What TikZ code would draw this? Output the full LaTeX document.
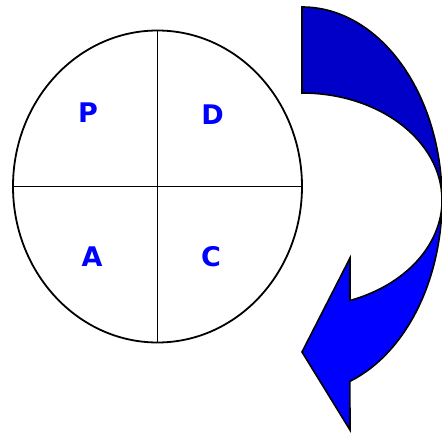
\documentclass[tikz,border=0pt]{standalone}
\usepackage{fontspec}
\setmainfont{DejaVu Sans}
\usetikzlibrary{shapes.geometric}
\definecolor{lblblue}{RGB}{0,0,255}
\definecolor{arrowdark}{RGB}{0,0,200}
\definecolor{arrowlight}{RGB}{0,0,255}
\tikzset{
  ring/.style={ellipse, draw=black, line width=1.8pt, minimum width=289pt, minimum height=312pt, inner sep=0pt},
  divider/.style={draw=black, line width=1.8pt},
  letter/.style={text=lblblue, font=\bfseries\fontsize{27}{30}\selectfont, inner sep=0pt},
  arrowpart/.style={draw=black, line width=1.6pt, line join=miter}
}
\begin{document}
\begin{tikzpicture}[x=1pt,y=1pt]
\useasboundingbox (0,0) rectangle (442,432);
% PDCA circle
\node[ring] (pdca) at (157.5,245.5) {};
\draw[divider] (pdca.north) -- (pdca.south);
\draw[divider] (pdca.west) -- (pdca.east);
\node[letter] (P) at (88,319.5) {P};
\node[letter] (D) at (212.5,317) {D};
\node[letter] (A) at (92,175) {A};
\node[letter] (C) at (211,175) {C};
% curved arrow, upper part
\filldraw[arrowpart, fill=arrowdark]
  (302,425) arc[start angle=90, end angle=0, x radius=140, y radius=193]
  arc[start angle=0, end angle=90, x radius=140, y radius=107] -- cycle;
% curved arrow, lower part with head
\filldraw[arrowpart, fill=arrowlight]
  (442,232) arc[start angle=0, end angle=-70, x radius=140, y radius=193]
  -- (350,2) -- (302,80) -- (350,174) -- (350,131.5)
  arc[start angle=-70, end angle=0, x radius=140, y radius=107] -- cycle;
\end{tikzpicture}
\end{document}
